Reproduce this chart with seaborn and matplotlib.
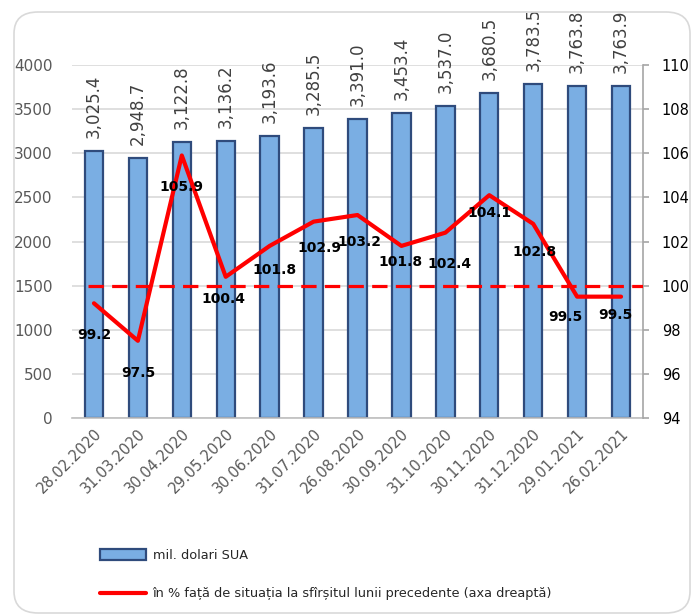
import matplotlib
matplotlib.use('Agg')
import numpy as np
import pandas as pd
import matplotlib.pyplot as plt
import seaborn as sns
from matplotlib.patches import Patch, FancyBboxPatch
from matplotlib.lines import Line2D

sns.set_style('white')
plt.rcParams['font.family'] = ['DejaVu Sans']

# Data
dates = ['28.02.2020', '31.03.2020', '30.04.2020', '29.05.2020', '30.06.2020',
         '31.07.2020', '26.08.2020', '30.09.2020', '31.10.2020', '30.11.2020',
         '31.12.2020', '29.01.2021', '26.02.2021']
reserves = [3025.4, 2948.7, 3122.8, 3136.2, 3193.6, 3285.5, 3391.0,
            3453.4, 3537.0, 3680.5, 3783.5, 3763.8, 3763.9]
pct_prev = [99.2, 97.5, 105.9, 100.4, 101.8, 102.9, 103.2,
            101.8, 102.4, 104.1, 102.8, 99.5, 99.5]
ref_level = 100

bar_label = 'mil. dolari SUA'
line_label = 'în % față de situația la sfîrșitul lunii precedente (axa dreaptă)'

# label offsets (pixels) for the line values
lbl_dx = [0, 0, 0, -2, 5, 6, 2, -1, 4, 0, 1, -12, -6]
lbl_dy = [-32, -32, -32, -22, -24, -26, -27, -16, -31, -18, -28, -20, -18]

df = pd.DataFrame({'date': dates, 'value': reserves, 'pct': pct_prev})

fig = plt.figure(figsize=(6.92, 6.15), dpi=100)
W, H = 692, 615
ax = fig.add_axes([72 / W, 1 - 418 / H, (643 - 72) / W, (418 - 65) / H])

# rounded frame around the chart
frame = FancyBboxPatch((14 / W, 2 / H), 676 / W, 601 / H,
                       boxstyle='round,pad=0,rounding_size=0.035',
                       transform=fig.transFigure, fill=False,
                       edgecolor='#d9d9d9', linewidth=1.2, zorder=0)
fig.patches.append(frame)

sns.barplot(data=df, x='date', y='value', color='#7aaee3', saturation=1,
            edgecolor='#2f4b7c', linewidth=1.6, width=0.42, ax=ax, zorder=2)
ax.set_ylim(0, 4000)
ax.set_xlim(-0.5, len(dates) - 0.5)
ax.set_yticks(range(0, 4001, 500))
ax.yaxis.grid(True, color='#d9d9d9', linewidth=1.2)
ax.set_axisbelow(True)
ax.set_xlabel('')
ax.set_ylabel('')
for s in ['top', 'left', 'right']:
    ax.spines[s].set_visible(False)
ax.spines['bottom'].set_color('#bfbfbf')
ax.spines['bottom'].set_linewidth(1.2)
ax.tick_params(axis='y', length=0, labelsize=11, labelcolor='#595959', pad=14)
ax.tick_params(axis='x', length=0, labelsize=10.5, labelcolor='#595959', pad=6)
plt.setp(ax.get_xticklabels(), rotation=45, ha='right', va='top',
         rotation_mode='anchor')

for i, v in enumerate(reserves):
    ax.annotate(f'{v:,.1f}', (i, v), xytext=(0, 13), textcoords='offset pixels',
                rotation=90, ha='center', va='bottom', fontsize=12,
                color='#404040', annotation_clip=False)

ax2 = ax.twinx()
sns.lineplot(x=np.arange(len(dates)), y=pct_prev, ax=ax2, color='red',
             linewidth=3, zorder=4)
ax2.axhline(ref_level, xmin=0.028, xmax=1, color='red', linewidth=2.3,
            dashes=(4.8, 2.6), zorder=3)
ax2.set_ylim(94, 110)
ax2.set_yticks(range(94, 111, 2))
ax2.set_xlim(-0.5, len(dates) - 0.5)
for s in ['top', 'left', 'bottom']:
    ax2.spines[s].set_visible(False)
ax2.spines['right'].set_color('#a6a6a6')
ax2.spines['right'].set_linewidth(1.2)
ax2.tick_params(axis='y', length=4.5, width=1.2, color='#a6a6a6', labelsize=10.5,
                labelcolor='black', pad=9)

for i, v in enumerate(pct_prev):
    ax2.annotate(f'{v:.1f}', (i, v), xytext=(lbl_dx[i], lbl_dy[i]),
                 textcoords='offset pixels', ha='center', va='center',
                 fontsize=10, fontweight='bold', color='black', zorder=5)

handles = [Patch(facecolor='#7aaee3', edgecolor='#2f4b7c', linewidth=1.6),
           Line2D([0], [0], color='red', linewidth=3)]
leg = fig.legend(handles, [bar_label, line_label], loc='upper left',
                 bbox_to_anchor=(88 / W, 1 - 537 / H), frameon=False,
                 fontsize=9.3, handlelength=3.6, handleheight=0.9,
                 labelspacing=2.0, handletextpad=0.5)
for t in leg.get_texts():
    t.set_color('#262626')

fig.savefig('out.png', dpi=100)
